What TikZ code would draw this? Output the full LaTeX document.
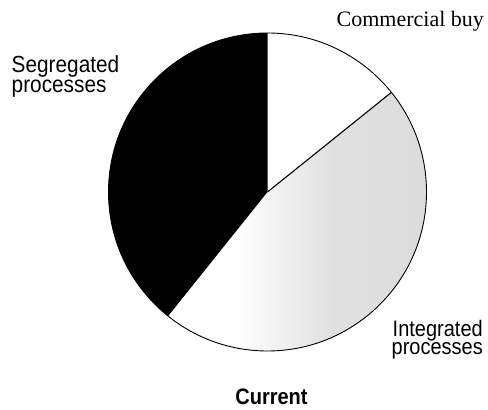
\documentclass[tikz,border=0pt]{standalone}
\usepackage{fontspec}
\setmainfont{Liberation Serif}
\setsansfont{Liberation Sans}
\newcommand{\twolines}[3]{\scalebox{1}[1.12]{\vbox{\baselineskip=#3\lineskiplimit=-100pt\lineskip=0pt\hbox{#1}\hbox{#2}}}}
\newcommand{\talltxt}[1]{\scalebox{1}[1.12]{#1}}
\begin{document}
\begin{tikzpicture}[x=1pt,y=1pt,
  sanslab/.style={font=\sffamily\fontsize{20}{24}\selectfont, inner sep=0pt, anchor=base west},
  seglab/.style={font=\sffamily\fontsize{20.8}{24}\selectfont, inner sep=0pt, anchor=base west},
  seriflab/.style={font=\rmfamily\fontsize{22}{26}\selectfont, inner sep=0pt, anchor=base west}]
\useasboundingbox (0,0) rectangle (488,410);
\def\R{159}
\coordinate (c) at (267.5,218);
% integrated slice (stippled light grey)
\begin{scope}
  \clip (c) -- ++(231.3:\R) arc[start angle=231.3,end angle=398.8,radius=\R] -- cycle;
  \shade[left color=white, right color=gray!28, middle color=gray!24] (235,55) rectangle (430,330);
\end{scope}
% segregated slice
\fill[black] (c) -- ++(90:\R) arc[start angle=90,end angle=231.3,radius=\R] -- cycle;
% outline
\draw[line width=0.9pt] (c) circle[radius=\R];
\draw[line width=1.1pt] (c) -- ++(38.8:\R);
% labels
\node[seriflab] (comm) at (336.5,383.5) {Commercial buy};
\node[seglab] (seg) at (11.5,317.7) {\twolines{Segregated}{processes}{17.7pt}};
\node[sanslab] (int) at (391.5,55) {\twolines{\hspace{1pt}Integrated}{processes}{16.3pt}};
\node[font=\sffamily\bfseries\fontsize{20}{24}\selectfont, inner sep=0pt, anchor=base] (cur) at (271.5,5) {\talltxt{Current}};
\end{tikzpicture}
\end{document}
